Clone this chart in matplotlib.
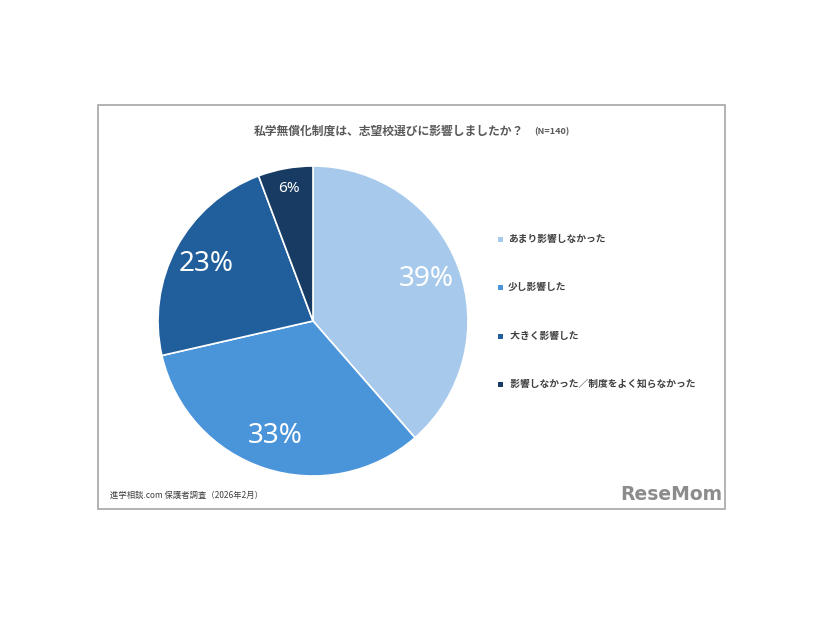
import numpy as np
import matplotlib.pyplot as plt
from matplotlib.patches import Rectangle

plt.rcParams['font.family'] = ['Noto Sans CJK JP', 'DejaVu Sans']

# data (N=140)
labels = ['あまり影響しなかった', '少し影響した', ' 大きく影響した', ' 影響しなかった／制度をよく知らなかった']
counts = [54, 46, 32, 8]
pct_labels = ['39%', '33%', '23%', '6%']
colors = ['#A7CAEC', '#4A94DA', '#205E9C', '#173B62']

fig = plt.figure(figsize=(8.26, 6.2), dpi=100)

# outer frame
fig.patches.append(Rectangle((98 / 826, 1 - 509 / 620), 627 / 826, 404 / 620,
                             transform=fig.transFigure, fill=False,
                             edgecolor='#A6A6A6', linewidth=1.2))

ax = fig.add_axes([(313 - 155) / 826, (620 - 321 - 155) / 620, 310 / 826, 310 / 620])
wedges, _ = ax.pie(counts, colors=colors, startangle=90, counterclock=False,
                   wedgeprops=dict(edgecolor='white', linewidth=1.2))
ax.set_xlim(-1, 1)
ax.set_ylim(-1, 1)
ax.set_aspect('equal')

# percentage labels
total = sum(counts)
cum = 0
for i, (c, t) in enumerate(zip(counts, pct_labels)):
    mid = 90 - (cum + c / 2) / total * 360
    cum += c
    r = 0.78 if i < 3 else 0.87
    fs = 20 if i < 3 else 11
    ax.text(r * np.cos(np.radians(mid)), r * np.sin(np.radians(mid)), t,
            ha='center', va='center', color='white', fontsize=fs,
            family=['Noto Sans', 'DejaVu Sans'])

# title
fig.text(389 / 826, 1 - 131 / 620, '私学無償化制度は、志望校選びに影響しましたか？',
         ha='center', va='center', fontsize=8.5, fontweight='bold', color='#595959')
fig.text(552 / 826, 1 - 132 / 620, '(N=140)', ha='center', va='center',
         fontsize=6.5, fontweight='bold', color='#595959')

# legend
leg_y = [239, 287, 336, 384]
for lab, col, y in zip(labels, colors, leg_y):
    fig.patches.append(Rectangle((498 / 826, 1 - (y + 3) / 620), 5 / 826, 5 / 620,
                                 transform=fig.transFigure, facecolor=col, edgecolor='none'))
    fig.text(508 / 826, 1 - y / 620, lab, ha='left', va='center',
             fontsize=7, fontweight='bold', color='#404040')

# source
fig.text(110 / 826, 1 - 495 / 620, '進学相談.com 保護者調査（2026年2月）',
         ha='left', va='center', fontsize=6, color='#404040')

# logo
fig.text(671 / 826, 1 - 494 / 620, 'ReseMom', ha='center', va='center',
         fontsize=13.5, fontweight='bold', color='#8C8C8C',
         family=['DejaVu Sans'])

fig.savefig('out.png', dpi=100)
